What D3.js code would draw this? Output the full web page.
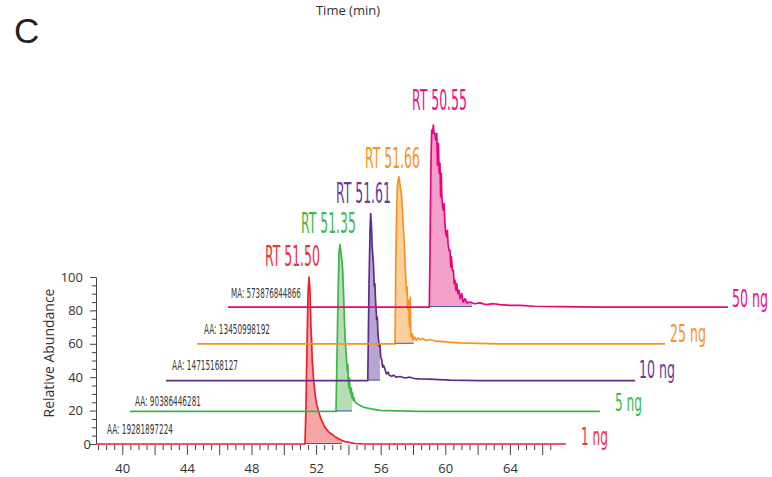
<!DOCTYPE html>
<html>
<head>
<meta charset="utf-8">
<script src="https://cdn.jsdelivr.net/npm/d3@7"></script>
<style>
  body { margin: 0; background: #fff; }
  svg { display: block; }
  .narrow { font-family: "Liberation Sans Narrow", "DejaVu Sans Condensed", sans-serif; }
  .axis text { font-family: "Open Sans", sans-serif; font-size: 13px; fill: #333; }
</style>
</head>
<body>
<svg id="chart" width="772" height="477"></svg>
<script>
// sample amounts, labels and integration results
const amounts = ["1 ng", "5 ng", "10 ng", "25 ng", "50 ng"]
const rtLabels = ["RT 51.50", "RT 51.35", "RT 51.61", "RT 51.66", "RT 50.55"]
const areaLabels = ["AA: 19281897224", "AA: 90386446281", "AA: 14715168127", "AA: 13450998192", "MA: 573876844866"]
// vertical offset of each stacked trace (% of axis)
const baseOffsets = [0, 19.5, 38, 60, 82]
// integration windows (plotted minutes)
const integration = [[51.31, 53.60], [53.23, 54.22], [55.15, 55.96], [56.89, 58.04], [59.0, 61.65]]

// traces as [time (min, as plotted), relative abundance above own baseline]
const trace1ng = [
  [38.4, 0], [51.31, 0], [51.37, 20], [51.44, 60], [51.50, 90], [51.56, 100], [51.62, 92], [51.68, 70],
  [51.72, 62], [51.76, 50], [51.85, 38], [51.93, 30], [52.03, 24], [52.14, 20], [52.3, 15], [52.55, 10],
  [52.8, 7], [53.17, 4.4], [53.5, 2.5], [53.79, 1.4], [54.41, 0.3], [55, 0], [67.47, 0]
]
const trace5ng = [
  [40.48, 0], [53.23, 0], [53.29, 30], [53.36, 70], [53.42, 95], [53.48, 100], [53.54, 95], [53.60, 90],
  [53.65, 84], [53.73, 62], [53.79, 44.5], [53.85, 36], [53.89, 30.5], [53.94, 24], [53.97, 28], [53.99, 18.6],
  [54.04, 14], [54.07, 20], [54.10, 13], [54.14, 10.8], [54.18, 14], [54.22, 8], [54.26, 11], [54.30, 6.5],
  [54.35, 8], [54.41, 5.6], [54.6, 4.2], [54.92, 2.6], [55.4, 1.5], [55.96, 0.6], [57, 0.3], [58.43, 0], [69.58, 0]
]
const trace10ng = [
  [42.71, 0], [55.20, 0], [55.24, 30], [55.28, 60], [55.34, 90], [55.38, 100], [55.43, 92], [55.47, 80],
  [55.50, 76.5], [55.55, 70], [55.60, 56.5], [55.64, 58], [55.68, 48], [55.75, 36.5], [55.79, 38], [55.83, 28],
  [55.87, 24], [55.91, 20.5], [55.95, 22], [56.00, 14], [56.06, 12.6], [56.12, 8], [56.18, 9], [56.27, 6.6],
  [56.35, 4], [56.45, 5], [56.55, 3], [56.68, 2.6], [56.8, 3.2], [56.95, 2], [57.2, 2.4], [57.5, 1.5],
  [57.8, 2], [58.1, 1.2], [58.43, 1], [59, 0.8], [60.29, 0.3], [62.15, 0], [71.75, 0]
]
const trace25ng = [
  [44.63, 0], [56.89, 0], [56.92, 30], [56.95, 60.5], [56.99, 80], [57.03, 94], [57.08, 98], [57.13, 100],
  [57.2, 95], [57.30, 88], [57.35, 78], [57.40, 70], [57.45, 62], [57.50, 50], [57.55, 40], [57.61, 30],
  [57.64, 34], [57.66, 22], [57.71, 20], [57.74, 26], [57.77, 12], [57.80, 10], [57.83, 28], [57.86, 6],
  [57.90, 4], [57.95, 6], [58.02, 2.4], [58.1, 4], [58.2, 2], [58.3, 3.5], [58.43, 2.5], [58.6, 3.2],
  [58.8, 2], [59.05, 2.6], [59.3, 1.8], [59.67, 1.5], [60.2, 1], [60.91, 0.5], [62, 0.3], [63.39, 0], [73.6, 0]
]
const trace50ng = [
  [46.55, 0], [59.01, 0], [59.05, 30], [59.08, 60], [59.12, 90], [59.16, 106], [59.20, 104], [59.26, 109],
  [59.30, 104], [59.36, 104], [59.41, 100], [59.47, 104], [59.52, 85], [59.57, 98], [59.62, 80], [59.67, 86],
  [59.71, 66], [59.75, 80], [59.78, 68], [59.83, 60], [59.88, 58], [59.92, 62], [59.98, 50], [60.03, 44],
  [60.09, 42], [60.13, 46], [60.17, 38], [60.23, 34], [60.29, 34], [60.34, 24], [60.38, 30], [60.44, 22],
  [60.50, 22], [60.55, 14], [60.60, 16], [60.66, 10], [60.71, 14], [60.78, 8], [60.85, 10], [60.92, 5],
  [61.02, 8], [61.1, 3], [61.22, 5], [61.35, 2.5], [61.53, 3], [61.8, 2], [62.15, 2.5], [62.5, 1.5],
  [63, 2], [63.39, 1.5], [64, 1], [64.63, 1], [65.5, 0.5], [67.1, 0.3], [69.58, 0], [77.5, 0]
]
const traces = [trace1ng, trace5ng, trace10ng, trace25ng, trace50ng]

const xTicks = d3.range(38.5, 67, 0.5)
const yTicks = d3.range(0, 101, 5)

// look
const lineColors = ["#ee1f2b", "#3db54b", "#5c2d8e", "#f7941d", "#e7067f"]
const fillColors = ["#f5a5a5", "#b4dfb2", "#b9a6d0", "#fcd09e", "#f4a0cb"]
const textColors = ["#ee3338", "#3dba4a", "#6a3c98", "#f7941d", "#e6157f"]
const rtPos = [[265, 266], [301, 233], [336, 203], [365, 168], [412, 110]]
const ngPos = [[581, 445], [615, 411], [639, 378], [670, 342], [732, 307]]
const ngWidth = [27, 27, 36, 36, 36]
const aaPos = [[107, 434], [135, 406], [172, 370], [204, 334], [231, 298]]
const aaWidth = [66, 66, 66, 66, 70]

// squeeze a condensed label into a target width with a horizontal scale
function fitText(sel, pos, widths) {
  sel.each(function (d, i) {
    const w = this.getComputedTextLength()
    const sx = widths[i] / w
    d3.select(this).attr("transform", `translate(${pos[i][0]},${pos[i][1]}) scale(${sx},1)`)
  })
}

function drawViz() {
  const svg = d3.select("#chart")
  const x = d3.scaleLinear([40, 64], [122.3, 509.9])
  const y = d3.scaleLinear([0, 100], [444, 277])

  // x axis, minor ticks every 0.5 min, longer every 2, labels every 4
  const gx = svg.append("g")
    .attr("class", "axis")
    .attr("transform", "translate(0,445)")
    .call(d3.axisBottom(x).tickValues(xTicks).tickSize(5).tickFormat(d => d % 4 === 0 ? d : ""))
  gx.select(".domain").remove()
  gx.selectAll(".tick line").attr("stroke", "#444").attr("y2", d => d % 2 === 0 ? 10 : 5)
  gx.selectAll(".tick text").attr("y", 28).attr("dy", null)

  // y axis
  const gy = svg.append("g")
    .attr("class", "axis")
    .attr("transform", "translate(96,0)")
    .call(d3.axisLeft(y).tickValues(yTicks).tickSize(4).tickSizeOuter(0).tickFormat(d => d % 20 === 0 ? d : ""))
  gy.select(".domain").attr("stroke", "#444")
  gy.selectAll(".tick line").attr("stroke", "#444").attr("x2", d => d % 20 === 0 ? -6 : -4)
  gy.selectAll(".tick text").attr("x", d => d === 0 ? -5 : -13)

  svg.append("text")
    .attr("transform", "translate(54,353) rotate(-90)")
    .attr("text-anchor", "middle")
    .style("font-family", "Open Sans, sans-serif")
    .style("font-size", "14px")
    .attr("fill", "#333")
    .text("Relative Abundance")

  svg.append("text")
    .attr("x", 348).attr("y", 15)
    .attr("text-anchor", "middle")
    .style("font-family", "Open Sans, sans-serif")
    .style("font-size", "13px")
    .attr("fill", "#333")
    .text("Time (min)")

  svg.append("text")
    .attr("x", 14).attr("y", 43)
    .style("font-family", "Liberation Sans, Arial, sans-serif")
    .style("font-size", "35px")
    .attr("fill", "#222")
    .text("C")

  // traces, lowest first so higher ones sit on top
  traces.forEach((tr, i) => {
    const base = baseOffsets[i]
    const [s, e] = integration[i]
    const clipId = `clip-${i}`
    svg.append("clipPath").attr("id", clipId)
      .append("rect")
      .attr("x", x(s)).attr("y", 0)
      .attr("width", x(e) - x(s)).attr("height", 477)

    const area = d3.area()
      .x(d => x(d[0]))
      .y0(y(base))
      .y1(d => y(base + d[1]))
    svg.append("path")
      .datum(tr)
      .attr("clip-path", `url(#${clipId})`)
      .attr("fill", fillColors[i])
      .attr("d", area)

    const line = d3.line()
      .x(d => x(d[0]))
      .y(d => y(base + d[1]))
    svg.append("path")
      .datum(tr)
      .attr("fill", "none")
      .attr("stroke", lineColors[i])
      .attr("stroke-width", 1.7)
      .attr("stroke-linejoin", "round")
      .attr("d", line)

    svg.append("line")
      .attr("x1", x(s)).attr("x2", x(e))
      .attr("y1", y(base) - 0.5).attr("y2", y(base) - 0.5)
      .attr("stroke", "#4060a8")
      .attr("stroke-width", 1)
  })

  // annotations
  svg.selectAll("text.rt")
    .data(rtLabels)
    .join("text")
      .attr("class", "rt narrow")
      .style("font-size", "28px")
      .attr("fill", (d, i) => textColors[i])
      .text(d => d)
      .call(fitText, rtPos, rtLabels.map(() => 55))

  svg.selectAll("text.ng")
    .data(amounts)
    .join("text")
      .attr("class", "ng narrow")
      .style("font-size", "24px")
      .attr("fill", (d, i) => textColors[i])
      .text(d => d)
      .call(fitText, ngPos, ngWidth)

  svg.selectAll("text.aa")
    .data(areaLabels)
    .join("text")
      .attr("class", "aa narrow")
      .style("font-size", "14px")
      .attr("fill", "#3a3a3a")
      .text(d => d)
      .call(fitText, aaPos, aaWidth)
}

drawViz()
</script>
</body>
</html>
